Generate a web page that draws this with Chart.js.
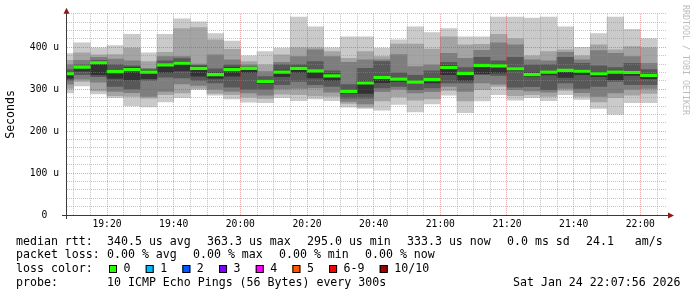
<!DOCTYPE html>
<html>
<head>
<meta charset="utf-8">
<script src="https://cdn.jsdelivr.net/npm/chart.js@4.4.1/dist/chart.umd.min.js"></script>
<style>
    html, body { margin: 0; padding: 0; background: #fff; }
</style>
</head>
<body>
<canvas id="chart1" width="697" height="297"></canvas>
<script>
// end time of each 5 minute step
const barTimes = ['19:10', '19:15', '19:20', '19:25', '19:30', '19:35', '19:40', '19:45', '19:50',
    '19:55', '20:00', '20:05', '20:10', '20:15', '20:20', '20:25', '20:30', '20:35', '20:40', '20:45',
    '20:50', '20:55', '21:00', '21:05', '21:10', '21:15', '21:20', '21:25', '21:30', '21:35', '21:40',
    '21:45', '21:50', '21:55', '22:00', '22:05'];

// median rtt in us
const median = [337, 353, 363.3, 342, 347, 341, 358, 362, 350, 335, 347, 350, 319, 341, 350, 344, 332, 295,
    315, 328, 324, 317, 323, 352, 338, 357, 356, 349, 335, 341, 345, 343, 337, 341, 340, 333.3];

// the 10 pings of each step, sorted low to high (us)
const ping1 = [291, 308, 289, 280, 260, 258, 270, 280, 299, 286, 277, 269, 268, 280, 273, 277, 273, 257,
    254, 250, 264, 246, 265, 286, 244, 272, 287, 274, 280, 273, 287, 276, 254, 240, 268, 268];
const ping2 = [302, 319, 296, 285, 283, 279, 287, 291, 302, 290, 287, 281, 278, 288, 287, 284, 283, 266,
    257, 272, 282, 274, 277, 297, 272, 299, 307, 285, 287, 283, 297, 283, 270, 280, 286, 290];
const ping3 = [312, 324, 317, 295, 292, 283, 295, 313, 309, 300, 295, 291, 286, 301, 302, 303, 293, 271,
    265, 294, 300, 291, 294, 307, 295, 315, 312, 299, 296, 293, 302, 292, 283, 291, 300, 302];
const ping4 = [321, 335, 330, 307, 301, 321, 329, 327, 321, 315, 305, 300, 300, 311, 319, 311, 307, 279,
    279, 303, 307, 299, 303, 315, 315, 335, 333, 305, 306, 299, 315, 302, 307, 319, 311, 311];
const ping5 = [326, 343, 335, 326, 322, 325, 340, 344, 331, 326, 331, 340, 314, 330, 340, 327, 321, 290,
    290, 316, 319, 314, 315, 335, 321, 337, 339, 345, 330, 334, 328, 335, 330, 323, 333, 325];
const ping6 = [338, 354, 364, 344, 352, 345, 362, 365, 355, 340, 352, 352, 322, 346, 354, 347, 337, 297,
    320, 330, 327, 320, 326, 356, 341, 360, 359, 352, 340, 344, 347, 346, 340, 344, 343, 337];
const ping7 = [347, 359, 369, 359, 356, 347, 368, 373, 357, 349, 358, 354, 330, 359, 359, 366, 344, 311,
    350, 366, 339, 333, 344, 364, 352, 376, 368, 376, 358, 359, 376, 362, 356, 352, 362, 347];
const ping8 = [359, 369, 376, 372, 368, 350, 378, 378, 360, 382, 370, 358, 342, 364, 378, 394, 378, 364,
    370, 370, 383, 354, 358, 386, 374, 393, 411, 406, 370, 368, 388, 370, 392, 386, 378, 362];
const ping9 = [369, 387, 382, 383, 398, 366, 388, 445, 447, 418, 395, 366, 358, 382, 399, 399, 390, 374,
    390, 378, 408, 408, 396, 425, 406, 407, 431, 421, 380, 390, 394, 380, 406, 394, 402, 399];
const ping10 = [385, 411, 399, 404, 431, 387, 431, 468, 461, 433, 415, 380, 390, 398, 472, 449, 399, 425,
    425, 398, 418, 449, 435, 445, 425, 425, 472, 472, 470, 472, 449, 400, 433, 472, 443, 421];

const lossLabels = ['0', '1', '2', '3', '4', '5', '6-9', '10/10'];
const lossColors = ['#26ff00', '#00b8ff', '#0059ff', '#7e00ff', '#ff00ff', '#ff5500', '#ff0000', '#a10000'];

const pings = [ping1, ping2, ping3, ping4, ping5, ping6, ping7, ping8, ping9, ping10];
const smokeColors = ['#323232', '#585858', '#7e7e7e', '#a4a4a4', '#cacaca'];

function toMin(t) {
    let p = t.split(':');
    return parseInt(p[0]) * 60 + parseInt(p[1]);
}

function fmtMin(v) {
    let h = Math.floor(v / 60);
    let m = v % 60;
    return h + ':' + (m < 10 ? '0' + m : m);
}

let centers = barTimes.map(t => toMin(t) - 2.5);

let datasets = [{
    label: 'median',
    data: median.map((m, i) => ({ x: centers[i], y: [m - 3, m + 3] })),
    backgroundColor: lossColors[0],
    borderWidth: 0,
    grouped: false,
    barPercentage: 1,
    categoryPercentage: 1
}];

for (let i = 0; i < 5; i++) {
    let lo = pings[4 - i];
    let hi = pings[5 + i];
    datasets.push({
        label: 'smoke' + i,
        data: lo.map((v, k) => ({ x: centers[k], y: [v, hi[k]] })),
        backgroundColor: smokeColors[i],
        borderWidth: 0,
        grouped: false,
        barPercentage: 1,
        categoryPercentage: 1
    });
}

const legendFont = '11.6px "DejaVu Sans Mono"';

const rrdDecor = {
    id: 'rrdDecor',
    afterDraw(chart) {
        let ctx = chart.ctx;
        let a = chart.chartArea;
        ctx.save();

        // axes
        ctx.strokeStyle = '#3a3a3a';
        ctx.lineWidth = 1;
        ctx.beginPath();
        ctx.moveTo(a.left - 5, a.bottom + 0.5);
        ctx.lineTo(a.right + 2, a.bottom + 0.5);
        ctx.moveTo(a.left - 0.5, a.bottom + 4);
        ctx.lineTo(a.left - 0.5, a.top - 2);
        ctx.stroke();

        ctx.fillStyle = '#8b1a1a';
        ctx.beginPath();
        ctx.moveTo(a.left - 0.5, a.top - 6);
        ctx.lineTo(a.left - 3.5, a.top);
        ctx.lineTo(a.left + 2.5, a.top);
        ctx.closePath();
        ctx.fill();
        ctx.beginPath();
        ctx.moveTo(a.right + 7, a.bottom + 0.5);
        ctx.lineTo(a.right + 1, a.bottom - 2.5);
        ctx.lineTo(a.right + 1, a.bottom + 3.5);
        ctx.closePath();
        ctx.fill();

        // vertical labels
        ctx.fillStyle = '#000';
        ctx.font = legendFont;
        ctx.textAlign = 'center';
        ctx.textBaseline = 'middle';
        ctx.save();
        ctx.translate(10.5, (a.top + a.bottom) / 2);
        ctx.rotate(-Math.PI / 2);
        ctx.fillText('Seconds', 0, 0);
        ctx.restore();

        ctx.save();
        ctx.fillStyle = '#bcbcbc';
        ctx.font = '8.3px "DejaVu Sans Mono"';
        ctx.textAlign = 'left';
        ctx.translate(685, 5);
        ctx.rotate(Math.PI / 2);
        ctx.fillText('RRDTOOL / TOBI OETIKER', 0, 0);
        ctx.restore();

        // legend lines
        ctx.font = legendFont;
        ctx.textAlign = 'left';
        ctx.fillStyle = '#000';
        let rows = [
            [241.5, [[16, 'median rtt:'], [107, '340.5 us avg'], [207, '363.3 us max'], [307, '295.0 us min'],
                [407, '333.3 us now'], [507, '0.0 ms sd'], [586, '24.1   am/s']]],
            [255, [[16, 'packet loss:'], [107, '0.00 % avg'], [193, '0.00 % max'], [279, '0.00 % min'],
                [365, '0.00 % now']]],
            [269, [[16, 'loss color:']]],
            [282.7, [[16, 'probe:'], [107, '10 ICMP Echo Pings (56 Bytes) every 300s'],
                [513, 'Sat Jan 24 22:07:56 2026']]]
        ];
        rows.forEach(r => {
            r[1].forEach(s => ctx.fillText(s[1], s[0], r[0]));
        });

        let bx = 109;
        lossLabels.forEach((lab, i) => {
            ctx.fillStyle = lossColors[i];
            ctx.fillRect(bx, 265, 8, 8);
            ctx.strokeStyle = '#000';
            ctx.strokeRect(bx + 0.5, 265.5, 7, 7);
            ctx.fillStyle = '#000';
            ctx.fillText(lab, bx + 14.5, 269);
            bx += 22 + ctx.measureText(lab).width + 7.7;
        });

        ctx.restore();
    }
};

let gridDash = [1, 1];

let myChart1 = new Chart(document.getElementById('chart1'), {
    type: 'bar',
    data: { datasets: datasets },
    options: {
        responsive: false,
        animation: false,
        events: [],
        layout: { padding: { left: 0, right: 30, top: 12, bottom: 62 } },
        plugins: {
            legend: { display: false },
            tooltip: { enabled: false }
        },
        scales: {
            x: {
                type: 'linear',
                min: 1148,
                max: 1328,
                offset: false,
                afterBuildTicks: function (scale) {
                    scale.ticks = barTimes.map(t => ({ value: toMin(t) }));
                },
                afterFit: function (scale) { scale.height = 20; },
                ticks: {
                    autoSkip: false,
                    maxRotation: 0,
                    padding: 4,
                    color: '#000',
                    font: { family: 'DejaVu Sans Mono', size: 9.7 },
                    callback: function (v) { return v % 20 === 0 ? fmtMin(v) : ''; }
                },
                grid: {
                    offset: false,
                    drawTicks: false,
                    z: 1,
                    color: ctx => ctx.tick && ctx.tick.value % 20 === 0 ? 'rgba(200,50,50,0.45)' : 'rgba(140,140,140,0.5)'
                },
                border: { display: false, dash: gridDash }
            },
            y: {
                min: 0,
                max: 480,
                afterBuildTicks: function (scale) {
                    let t = [];
                    for (let v = 0; v <= 480; v += 20) t.push({ value: v });
                    scale.ticks = t;
                },
                afterFit: function (scale) { scale.width = 67; },
                ticks: {
                    autoSkip: false,
                    padding: 8,
                    color: '#000',
                    font: { family: 'DejaVu Sans Mono', size: 9.7 },
                    callback: function (v) {
                        if (v % 100 !== 0) return '';
                        return v === 0 ? '0  ' : v + ' u';
                    }
                },
                grid: {
                    drawTicks: false,
                    z: 1,
                    color: ctx => ctx.tick && ctx.tick.value % 100 === 0 ? 'rgba(200,50,50,0.45)' : 'rgba(140,140,140,0.5)'
                },
                border: { display: false, dash: gridDash }
            }
        }
    },
    plugins: [rrdDecor]
});
</script>
</body>
</html>
